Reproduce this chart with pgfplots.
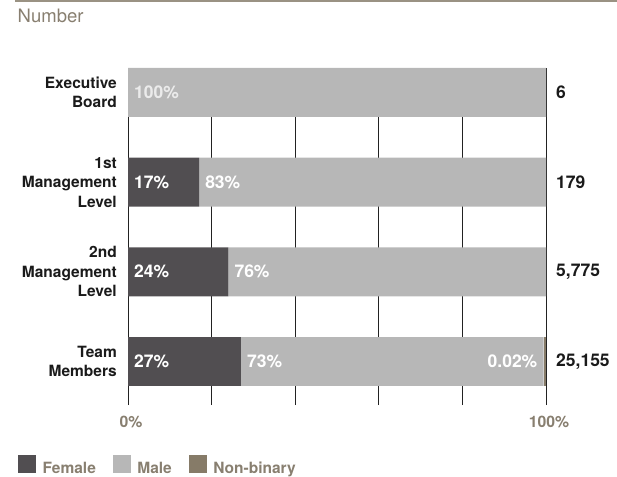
\documentclass[border=0pt]{standalone}
\usepackage{pgfplots}
\pgfplotsset{compat=1.18}
\usepackage{pgfplotstable}
\usepackage{fontspec}
\setmainfont{TeX Gyre Heros}
\definecolor{female}{HTML}{514E51}
\definecolor{male}{HTML}{B7B7B7}
\definecolor{nonbin}{HTML}{867B68}
\definecolor{accent}{HTML}{887F70}
\definecolor{rulecol}{HTML}{9A9283}
\definecolor{gridcol}{HTML}{222222}
\definecolor{labelcol}{HTML}{1A1A1A}

\pgfplotstableread{
y female male nonbinary
3 0 100 0
2 17 83 0
1 24 76 0
0 27 72.4 0.6
}\gendertab

\pgfplotsset{sq/.style={legend image code/.code={\fill[##1] (0pt,-4.3pt) rectangle (18pt,13.7pt);}}}
\tikzset{inlab/.style={font=\bfseries\fontsize{17.5}{20}\selectfont, inner sep=0pt, text=white},
  numlab/.style={font=\bfseries\fontsize{17.5}{20}\selectfont, inner sep=0pt, text=labelcol, anchor=west, xshift=10pt}}

\begin{document}
\begin{tikzpicture}
\path[use as bounding box] (0pt,0pt) rectangle (617pt,476pt);
\fill[rulecol] (15pt,473.5pt) rectangle (617pt,476pt);
\node[anchor=base west, inner sep=0pt, text=accent, font=\fontsize{18.5}{22}\selectfont] at (17.5pt,453pt) {Number};
\begin{axis}[
  at={(128pt,71pt)}, anchor=south west,
  scale only axis, width=418pt, height=337pt,
  xbar stacked, bar width=0.546,
  xmin=0, xmax=100, ymin=-0.485, ymax=3.273,
  axis line style={draw=none},
  xtick={0,20,40,60,80,100}, xticklabels={0\%,,,,,100\%},
  xmajorgrids, grid style={line width=0.8pt, color=gridcol},
  major tick length=0pt,
  ytick={0,1,2,3},
  yticklabels={{Team\\Members},{2nd\\Management\\Level},{1st\\Management\\Level},{Executive\\Board}},
  yticklabel style={anchor=east, align=right, inner sep=0pt, xshift=-11pt, font=\bfseries\fontsize{15.5}{19.5}\selectfont, text=labelcol},
  xticklabel style={anchor=center, yshift=-17pt, xshift=3pt, font=\bfseries\fontsize{15.8}{19}\selectfont, text=accent},
  clip=false,
  legend style={draw=none, fill=none, at={(-0.263,-0.2107)}, anchor=south west, yshift=1pt, inner sep=0pt, outer sep=0pt,
    font=\bfseries\fontsize{15.5}{19}\selectfont, text=accent, legend columns=3,
    nodes={inner sep=0pt},
    /tikz/every odd column/.append style={column sep=6.5pt},
    /tikz/every even column/.append style={column sep=17pt}},
]
\addplot[fill=female, draw=none, sq] table[x=female,y=y] {\gendertab};
\addplot[fill=male, draw=none, sq] table[x=male,y=y] {\gendertab};
\addplot[fill=nonbin, draw=none, sq] table[x=nonbinary,y=y] {\gendertab};
\legend{Female,Male,Non-binary}

\coordinate (e0) at (axis cs:0,3);
\coordinate (a0) at (axis cs:0,2);
\coordinate (a1) at (axis cs:17,2);
\coordinate (b0) at (axis cs:0,1);
\coordinate (b1) at (axis cs:24,1);
\coordinate (t0) at (axis cs:0,0);
\coordinate (t1) at (axis cs:27,0);
\coordinate (t2) at (axis cs:99.4,0);
\coordinate (n3) at (axis cs:100,3);
\coordinate (n2) at (axis cs:100,2);
\coordinate (n1) at (axis cs:100,1);
\coordinate (n0) at (axis cs:100,0);
\end{axis}
\node[inlab, anchor=west, xshift=6pt, text=white!92!black] at (e0) {100\%};
\node[inlab, anchor=west, xshift=6pt] at (a0) {17\%};
\node[inlab, anchor=west, xshift=6pt] at (a1) {83\%};
\node[inlab, anchor=west, xshift=6pt] at (b0) {24\%};
\node[inlab, anchor=west, xshift=6pt] at (b1) {76\%};
\node[inlab, anchor=west, xshift=6pt] at (t0) {27\%};
\node[inlab, anchor=west, xshift=6pt] at (t1) {73\%};
\node[inlab, anchor=east, xshift=-6pt] at (t2) {0.02\%};
\node[numlab] at (n3) {6};
\node[numlab] at (n2) {179};
\node[numlab] at (n1) {5,775};
\node[numlab] at (n0) {25,155};
\end{tikzpicture}
\end{document}
